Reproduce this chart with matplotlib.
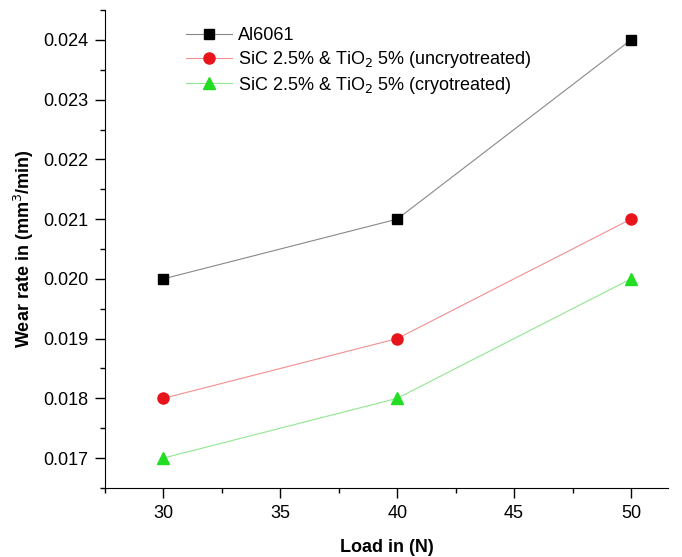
import matplotlib
matplotlib.use('Agg')
import matplotlib.pyplot as plt
from matplotlib.ticker import MultipleLocator

plt.rcParams['font.family'] = ['Liberation Sans', 'DejaVu Sans']

# Data
load = [30, 40, 50]
al6061 = [0.020, 0.021, 0.024]
uncryo = [0.018, 0.019, 0.021]
cryo = [0.017, 0.018, 0.020]

fig = plt.figure(figsize=(6.82, 5.57), dpi=100)
ax = fig.add_axes([0.154, 0.124, 0.826, 0.858])

ax.plot(load, al6061, color='#888888', lw=0.8, marker='s', ms=7,
        mfc='black', mec='black', label='Al6061')
ax.plot(load, uncryo, color='#f09090', lw=0.8, marker='o', ms=8,
        mfc='#e8141c', mec='#e8141c', label=r'SiC 2.5% & TiO$_2$ 5% (uncryotreated)')
ax.plot(load, cryo, color='#90e890', lw=0.8, marker='^', ms=8,
        mfc='#22dd22', mec='#22dd22', label=r'SiC 2.5% & TiO$_2$ 5% (cryotreated)')

ax.set_xlim(27.5, 51.6)
ax.set_ylim(0.0165, 0.0245)
ax.xaxis.set_major_locator(MultipleLocator(5))
ax.xaxis.set_minor_locator(MultipleLocator(2.5))
ax.yaxis.set_major_locator(MultipleLocator(0.001))
ax.yaxis.set_minor_locator(MultipleLocator(0.0005))
ax.yaxis.set_major_formatter(plt.FormatStrFormatter('%.3f'))

for s in ['top', 'right']:
    ax.spines[s].set_visible(False)
ax.tick_params(which='major', direction='out', length=7.2, width=1, labelsize=13, pad=5)
ax.tick_params(which='minor', direction='out', length=3.6, width=1)

ax.set_xlabel('Load in (N)', fontsize=13, fontweight='bold', labelpad=12)
ax.set_ylabel('Wear rate in (mm$^3$/min)', fontsize=13, fontweight='bold', labelpad=5)

ax.legend(loc='upper left', bbox_to_anchor=(186 / 682, 1 - 27 / 557),
          bbox_transform=fig.transFigure, frameon=False, borderpad=0,
          borderaxespad=0, fontsize=13, handlelength=2.55, handletextpad=0.33,
          labelspacing=0.27)

fig.savefig('out.png', dpi=100)
